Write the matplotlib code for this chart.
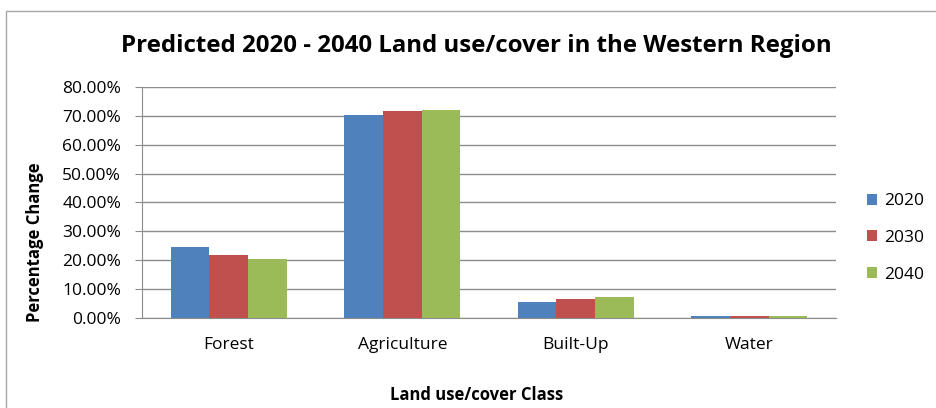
import numpy as np
import matplotlib.pyplot as plt
from matplotlib.patches import Rectangle
from matplotlib.ticker import PercentFormatter

plt.rcParams['font.family'] = ['Open Sans', 'DejaVu Sans']

classes = ['Forest', 'Agriculture', 'Built-Up', 'Water']
years = ['2020', '2030', '2040']
v2020 = [24.5, 70.2, 5.3, 0.4]
v2030 = [21.7, 71.8, 6.4, 0.4]
v2040 = [20.3, 72.0, 7.1, 0.4]
colors = ['#4F81BD', '#C0504D', '#9BBB59']

fig = plt.figure(figsize=(9.36, 4.08), dpi=100)
ax = fig.add_axes([142/936, 1 - 317.5/408, (836 - 142)/936, (317.5 - 87.3)/408])

x = np.arange(len(classes))
w = 1 / 4.5
for i, (vals, c, yr) in enumerate(zip([v2020, v2030, v2040], colors, years)):
    ax.bar(x + (i - 1) * w, vals, w, color=c, label=yr, zorder=3)

ax.set_xlim(-0.5, 3.5)
ax.set_ylim(0, 80)
ax.set_yticks(np.arange(0, 81, 10))
ax.yaxis.set_major_formatter(PercentFormatter(decimals=2))
ax.grid(axis='y', color='#8c8c8c', lw=1, zorder=0)
ax.set_xticks(x)
ax.set_xticklabels(classes)
ax.tick_params(axis='x', length=0, pad=14, labelsize=12.5)
ax.tick_params(axis='y', length=5, color='#8c8c8c', labelsize=12.5, pad=10)
for s in ['top', 'right']:
    ax.spines[s].set_visible(False)
for s in ['left', 'bottom']:
    ax.spines[s].set_color('#8c8c8c')

fig.text(0.509, 1 - 46/408, 'Predicted 2020 - 2040 Land use/cover in the Western Region',
         ha='center', va='center', fontsize=17.3, fontweight='bold')
fig.text(0.509, 1 - 395/408, 'Land use/cover Class', ha='center', va='center',
         fontsize=12, fontweight='bold')
fig.text(35/936, 1 - 242.5/408, 'Percentage Change', ha='center', va='center',
         rotation=90, fontsize=12, fontweight='bold')

fig.legend(loc='center left', bbox_to_anchor=(867/936, 1 - 238/408), frameon=False,
           fontsize=12.5, handlelength=0.6, handleheight=0.6, handletextpad=0.4,
           labelspacing=1.2, borderaxespad=0, borderpad=0)

fig.patches.append(Rectangle((6/936, -0.1), 1.2, 1 - 11/408 + 0.1, transform=fig.transFigure,
                             fill=False, edgecolor='#a6a6a6', lw=1))

fig.savefig('out.png', dpi=100)
